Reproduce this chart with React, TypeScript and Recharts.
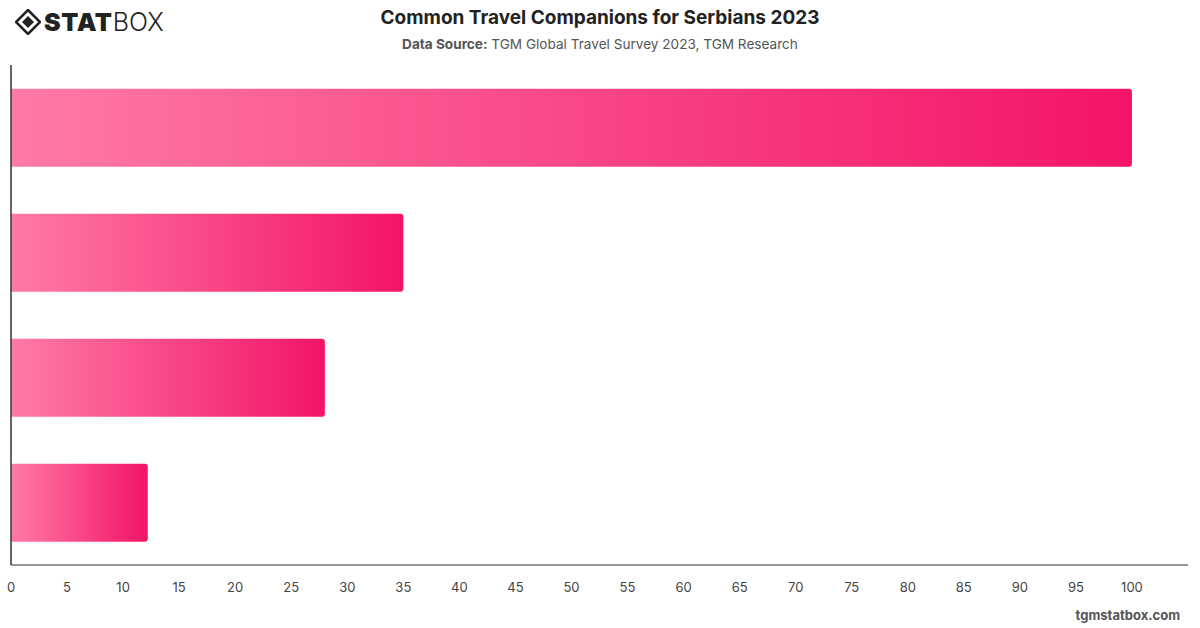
import React from 'react'
import { BarChart, Bar, XAxis, YAxis } from 'recharts';

const companions = ['With partner', 'With family', 'With friends', 'Alone'];
const shares = [100, 35, 28, 12.2];
const xTicks = [0, 5, 10, 15, 20, 25, 30, 35, 40, 45, 50, 55, 60, 65, 70, 75, 80, 85, 90, 95, 100];

const chartData = companions.map((name, i) => ({ name, value: shares[i] }));

const font = 'Inter, "Liberation Sans", Arial, sans-serif';

const Logo = () => (
  <div style={{ position: 'absolute', left: 15, top: 7, display: 'flex', alignItems: 'center', fontFamily: font }}>
    <svg width="26" height="26" viewBox="0 0 26 26">
      <polygon points="13,1 25,13 13,25 1,13" fill="none" stroke="#222" strokeWidth="2.5" />
      <polygon points="13,7 19,13 13,19 7,13" fill="#222" />
    </svg>
    <span style={{ fontSize: 25, fontWeight: 900, color: '#222', marginLeft: 3, letterSpacing: 0.6 }}>STAT</span>
    <span style={{ fontSize: 25, fontWeight: 300, color: '#222' }}>BOX</span>
  </div>
);

const App = () => {
  return (
    <div style={{ position: 'absolute', left: 0, top: 0, width: 1200, height: 628, background: '#fff', fontFamily: font }}>
      <Logo />
      <div style={{ position: 'absolute', top: 6, width: 1200, textAlign: 'center', fontSize: 19, fontWeight: 700, color: '#222' }}>
        Common Travel Companions for Serbians 2023
      </div>
      <div style={{ position: 'absolute', top: 36, width: 1200, textAlign: 'center', fontSize: 13.6, color: '#555' }}>
        <b>Data Source:</b> TGM Global Travel Survey 2023, TGM Research
      </div>
      <BarChart
        width={1200}
        height={628}
        data={chartData}
        layout="vertical"
        barCategoryGap="19%"
        margin={{ top: 65, right: 12, left: 10, bottom: 33 }}
      >
        <defs>
          <linearGradient id="barGrad" x1="0" y1="0" x2="1" y2="0">
            <stop offset="0%" stopColor="#ff7aa6" />
            <stop offset="100%" stopColor="#f31468" />
          </linearGradient>
        </defs>
        <Bar dataKey="value" fill="url(#barGrad)" radius={[0, 3, 3, 0]} isAnimationActive={false} />
        <XAxis
          type="number"
          domain={[0, 105]}
          ticks={xTicks}
          tickLine={false}
          tickMargin={12}
          height={30}
          axisLine={{ stroke: '#333' }}
          tick={{ fill: '#444', fontSize: 13 }}
          interval={0}
        />
        <YAxis type="category" dataKey="name" width={1} tick={false} tickLine={false} axisLine={{ stroke: '#333', strokeWidth: 1.5 }} />
      </BarChart>
      <div style={{ position: 'absolute', right: 20, top: 607, fontSize: 13, fontWeight: 700, color: '#555' }}>
        tgmstatbox.com
      </div>
    </div>
  );
}

export default App
